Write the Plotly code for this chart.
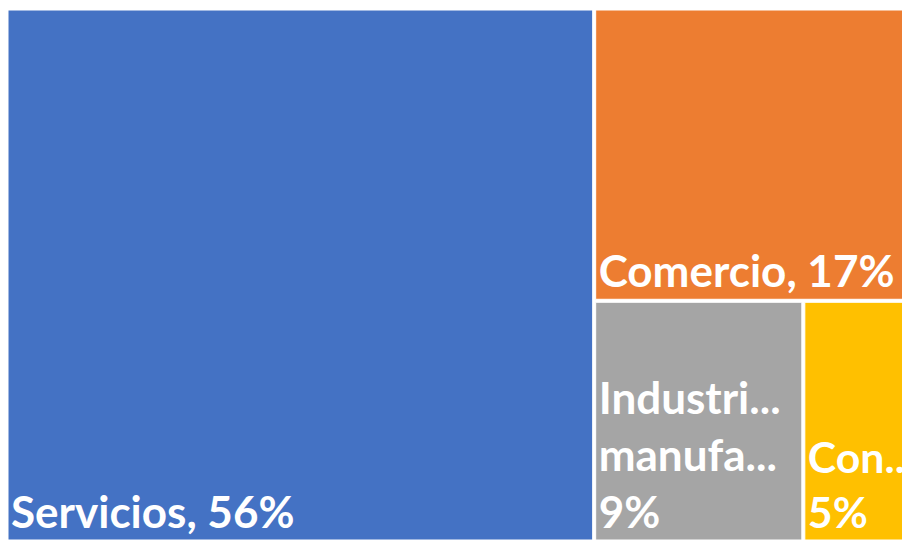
import plotly.graph_objects as go

categories = ["Servicios", "Comercio", "Industria manufacturera", "Construcción"]
values = [56, 17, 9, 5]
shown_labels = ["Servicios, 56%", "Comercio, 17%", "Industri...<br>manufa...<br>9%", "Con...<br>5%"]
colors = ["#4472C4", "#ED7D31", "#A5A5A5", "#FFC000"]

fig = go.Figure(go.Treemap(
    labels=categories,
    parents=[""] * len(categories),
    values=values,
    text=shown_labels,
    textinfo="text",
    textposition="bottom left",
    textfont=dict(family="Lato", color="white", size=44, weight="bold"),
    marker=dict(colors=colors, line=dict(color="white", width=1),
                pad=dict(t=0, l=0, r=0, b=0)),
    pathbar=dict(visible=False),
))
fig.update_layout(width=910, height=542, margin=dict(l=0, r=0, t=2, b=10))
fig.write_html("out.html")
